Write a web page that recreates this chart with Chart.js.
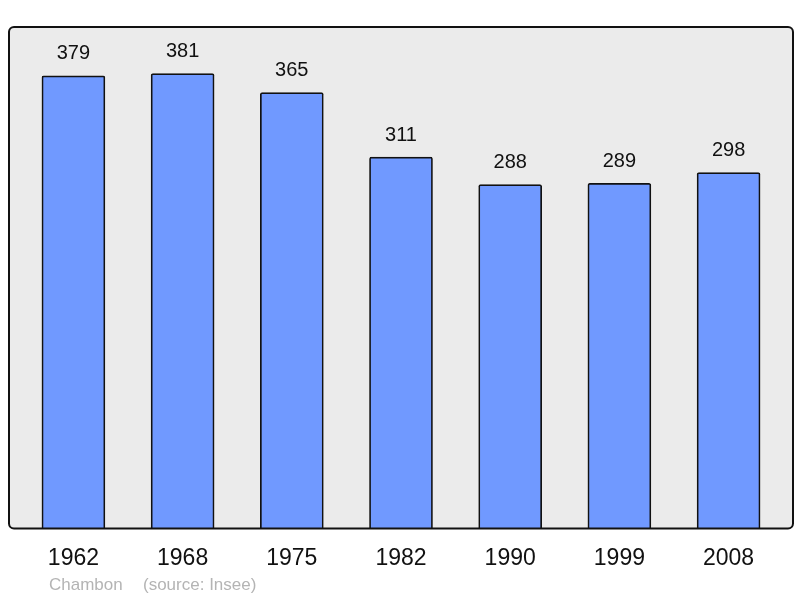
<!DOCTYPE html>
<html><head><meta charset="utf-8">
<script src="https://cdn.jsdelivr.net/npm/chart.js@4/dist/chart.umd.min.js"></script>
<style>html,body{margin:0;padding:0;background:#fff}#w{width:800px;height:598px}</style>
</head><body><div id="w"><canvas id="c"></canvas></div>
<script>
const years = ["1962","1968","1975","1982","1990","1999","2008"];
const population = [379,381,365,311,288,289,298];
const footerLeft = "Chambon";
const footerRight = "(source: Insee)";

const framePlugin = {
  id: 'frame',
  beforeDraw(chart) {
    const {ctx, chartArea: a} = chart;
    ctx.save();
    ctx.beginPath();
    ctx.roundRect(a.left, a.top, a.right - a.left, a.bottom - a.top, 5);
    ctx.fillStyle = '#ebebeb';
    ctx.fill();
    ctx.restore();
  },
  afterDatasetsDraw(chart) {
    const {ctx, chartArea: a} = chart;
    ctx.save();
    ctx.beginPath();
    ctx.roundRect(a.left, a.top, a.right - a.left, a.bottom - a.top, 5);
    ctx.lineWidth = 2;
    ctx.strokeStyle = '#111';
    ctx.stroke();
    // value labels
    const meta = chart.getDatasetMeta(0);
    ctx.fillStyle = '#111';
    ctx.font = '20px "Liberation Sans", Arial, sans-serif';
    ctx.textAlign = 'center';
    ctx.textBaseline = 'middle';
    meta.data.forEach((bar, i) => {
      ctx.fillText(String(population[i]), bar.x, bar.y - 22);
    });
    // footer
    ctx.fillStyle = '#b4b4b4';
    ctx.font = '17px "Liberation Sans", Arial, sans-serif';
    ctx.textAlign = 'left';
    ctx.fillText(footerLeft, 49, 585);
    ctx.fillText(footerRight, 143, 585);
    ctx.restore();
  }
};

new Chart(document.getElementById('c'), {
  type: 'bar',
  data: {
    datasets: [{
      data: population.map((v, i) => ({x: i, y: v})),
      backgroundColor: '#7099ff',
      borderColor: '#111',
      borderWidth: 1.7,
      borderSkipped: 'bottom',
      borderRadius: 2,
      barThickness: 63
    }]
  },
  options: {
    responsive: true,
    maintainAspectRatio: false,
    animation: false,
    layout: {padding: {top: 27, left: 9, right: 7, bottom: 10}},
    plugins: {legend: {display: false}, tooltip: {enabled: false}},
    scales: {
      x: {
        type: 'linear',
        offset: false,
        bounds: 'ticks',
        min: -0.59, max: 6.59,
        grid: {display: false, drawTicks: false, offset: false},
        border: {display: false},
        afterBuildTicks(scale) { scale.ticks = years.map((_, i) => ({value: i})); },
        ticks: {
          callback: (v) => years[v],
          color: '#111',
          padding: 16,
          maxRotation: 0,
          font: {size: 23, family: '"Liberation Sans", Arial, sans-serif'}
        }
      },
      y: {
        min: 0, max: 420,
        display: false
      }
    }
  },
  plugins: [framePlugin]
});
</script>
</body></html>
